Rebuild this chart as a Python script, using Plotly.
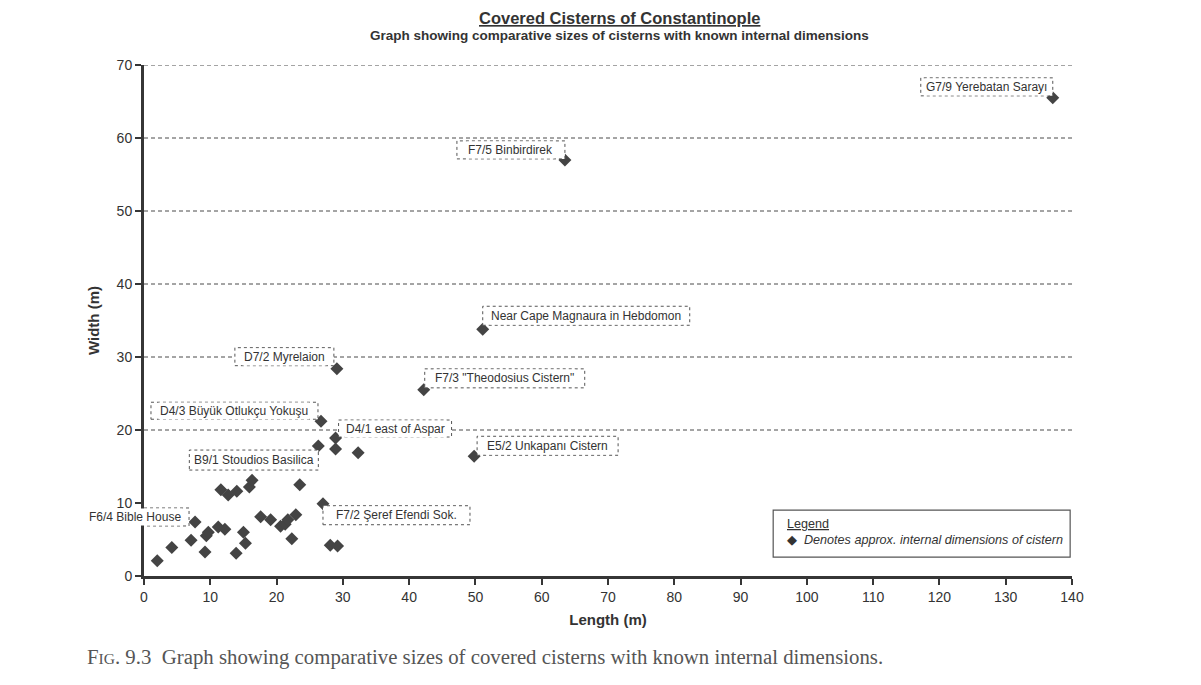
import plotly.graph_objects as go

# ---- data (length m, width m) ----
label_text = [
    "G7/9 Yerebatan Sarayı",
    "F7/5 Binbirdirek",
    "Near Cape Magnaura in Hebdomon",
    "D7/2 Myrelaion",
    'F7/3 "Theodosius Cistern"',
    "D4/3 Büyük Otlukçu Yokuşu",
    "D4/1 east of Aspar",
    "E5/2 Unkapanı Cistern",
    "B9/1 Stoudios Basilica",
    "F7/2 Şeref Efendi Sok.",
    "F6/4 Bible House",
]
label_len = [137.1, 63.5, 51.1, 29.1, 42.2, 26.7, 28.9, 49.8, 26.3, 27.0, 7.7]
label_wid = [65.5, 57.0, 33.8, 28.4, 25.5, 21.2, 18.9, 16.4, 17.8, 9.9, 7.4]

other_len = [28.9, 32.3, 2.0, 4.2, 7.1, 9.2, 9.4, 9.7, 11.2, 12.2, 11.6, 12.7, 14.0,
             15.9, 16.3, 15.0, 15.3, 13.9, 17.6, 19.1, 20.6, 21.3, 21.7, 22.9, 22.3,
             23.5, 28.1, 29.2]
other_wid = [17.4, 16.9, 2.1, 3.9, 4.9, 3.3, 5.5, 6.0, 6.7, 6.4, 11.8, 11.1, 11.6,
             12.2, 13.1, 6.0, 4.5, 3.1, 8.1, 7.7, 6.8, 7.1, 7.7, 8.4, 5.1,
             12.5, 4.2, 4.1]

grid_levels = [20, 30, 40, 50, 60, 70]
x_ticks = list(range(0, 141, 10))
y_ticks = list(range(0, 71, 10))

# label box pixel offsets relative to the point: (x0, x1, y0, y1), y up
box_off = [
    (-132, 0, 2, 20),
    (-108, 0, 1, 19),
    (0, 207, 4, 23),
    (-102, -3, 3, 21),
    (1, 161, 2, 21),
    (-170, -3, 2, 19),
    (3, 116, 1, 18),
    (3, 144, 1, 20),
    (-129, 0, -24, -4),
    (0, 147, -21, -2),
    (-114, -6, -4, 14),
]

FONT = "Liberation Sans, Arial, sans-serif"
INK = "#363636"

fig = go.Figure()

for g in grid_levels:
    fig.add_shape(type="line", xref="paper", yref="y", x0=0, x1=1.0, y0=g, y1=g,
                  line=dict(color="#4a4a4a", width=1, dash="4px,3px"), layer="below")

all_len = label_len + other_len
all_wid = label_wid + other_wid
fig.add_trace(go.Scatter(
    x=all_len, y=all_wid, mode="markers",
    marker=dict(symbol="diamond", size=10, color="#444444"),
    showlegend=False, hoverinfo="x+y"))

for t, lx, ly, (x0, x1, y0, y1) in zip(label_text, label_len, label_wid, box_off):
    fig.add_shape(type="rect", xref="x", yref="y",
                  xsizemode="pixel", ysizemode="pixel",
                  xanchor=lx, yanchor=ly, x0=x0, x1=x1, y0=y0, y1=y1,
                  line=dict(color="#555555", width=1, dash="dot"),
                  fillcolor="rgba(255,255,255,1)", layer="above")
    fig.add_annotation(x=lx, y=ly, xref="x", yref="y", text=t, showarrow=False,
                       xshift=(x0 + x1) / 2, yshift=(y0 + y1) / 2,
                       xanchor="center", yanchor="middle", bgcolor="white",
                       font=dict(family=FONT, size=12, color="#333333"))

# titles
fig.add_annotation(x=0.512, y=1.092, xref="paper", yref="paper", yanchor="middle",
                   text="<b><u>Covered Cisterns of Constantinople</u></b>",
                   showarrow=False, font=dict(family=FONT, size=16.5, color="#333333"))
fig.add_annotation(x=0.512, y=1.057, xref="paper", yref="paper", yanchor="middle",
                   text="<b>Graph showing comparative sizes of cisterns with known internal dimensions</b>",
                   showarrow=False, font=dict(family=FONT, size=13.5, color="#333333"))

# legend box
fig.add_shape(type="rect", xref="paper", yref="paper", x0=0.678, x1=0.998, y0=0.037, y1=0.129,
              line=dict(color="#555555", width=1.2), fillcolor="white", layer="above")
fig.add_annotation(x=0.691, y=0.086, xref="paper", yref="paper", xanchor="left", yanchor="middle",
                   text="<u>Legend</u><br>◆  <i>Denotes approx. internal dimensions of cistern</i>",
                   showarrow=False, align="left",
                   font=dict(family=FONT, size=12.6, color="#333333"))

# caption
fig.add_annotation(x=-0.064, y=-0.158, xref="paper", yref="paper", xanchor="left", yanchor="middle",
                   text="F<span style='font-size:15.5px'>IG</span>. 9.3  Graph showing comparative sizes of covered cisterns with known internal dimensions.",
                   showarrow=False,
                   font=dict(family="Liberation Serif, DejaVu Serif, serif", size=20.8, color="#555555"))

fig.update_xaxes(range=[0, 140], tickvals=x_ticks, showgrid=False, zeroline=False,
                 showline=True, linewidth=3, linecolor=INK, ticks="outside", ticklen=6,
                 tickwidth=2, tickcolor=INK,
                 tickfont=dict(family=FONT, size=14, color="#333333"),
                 title=dict(text="<b>Length (m)</b>", standoff=11,
                            font=dict(family=FONT, size=15, color="#333333")))
fig.update_yaxes(range=[0, 70], tickvals=y_ticks, showgrid=False, zeroline=False,
                 showline=True, linewidth=3, linecolor=INK, ticks="outside", ticklen=6,
                 tickwidth=2, tickcolor=INK,
                 tickfont=dict(family=FONT, size=14, color="#333333"),
                 title=dict(text="<b>Width (m)</b>", standoff=14,
                            font=dict(family=FONT, size=15, color="#333333")))

fig.update_layout(width=1201, height=685, margin=dict(l=136, r=137, t=57, b=117),
                  plot_bgcolor="white", paper_bgcolor="white")

fig.write_html("out.html")
